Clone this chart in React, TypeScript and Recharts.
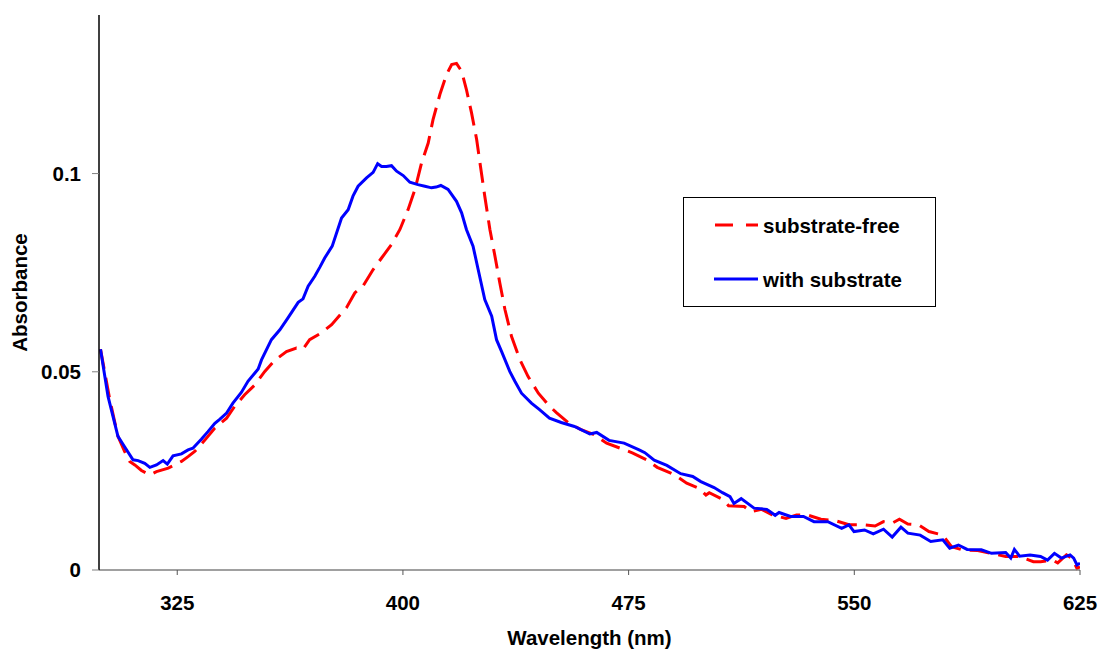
import React from "react";
import { LineChart, Line, XAxis, YAxis, Legend } from "recharts";

// [wavelength nm, absorbance]
const substrateFree: [number, number][] = [
  [299.5, 0.0557], [302.6, 0.0429], [305.3, 0.0337], [307.5, 0.0299], [309.2, 0.0274],
  [310.9, 0.0265], [313.1, 0.0251], [315.9, 0.024], [318.1, 0.0248], [322, 0.0257],
  [326.4, 0.0274], [328.6, 0.0286], [330.8, 0.0299], [334.1, 0.0327], [337.5, 0.0358],
  [341.4, 0.0383], [344.1, 0.0413], [347.4, 0.0442], [350.8, 0.0467], [354.1, 0.0501],
  [357.4, 0.0529], [361.3, 0.0551], [364.6, 0.056], [366.8, 0.0557], [369, 0.0581],
  [372.9, 0.0598], [376.3, 0.0619], [379.6, 0.0648], [381.2, 0.0661], [384, 0.0699],
  [386.8, 0.0717], [390.1, 0.0758], [392.9, 0.0787], [396.2, 0.0821], [399, 0.0859],
  [401.7, 0.0909], [404, 0.096], [406.2, 0.1027], [408.4, 0.1077], [410, 0.1136],
  [412.3, 0.12], [414.5, 0.125], [416.2, 0.1275], [417.8, 0.1278], [419.5, 0.1258],
  [421.1, 0.1212], [422.8, 0.1153], [424.5, 0.1086], [425.6, 0.1027], [427.2, 0.0943],
  [428.9, 0.0859], [430.6, 0.0791], [432.2, 0.0724], [433.9, 0.0657], [436.1, 0.0589],
  [438.9, 0.053], [441.6, 0.0488], [445, 0.0446], [448.5, 0.0415], [451, 0.0397],
  [454.9, 0.0372], [459, 0.0355], [463.6, 0.0341], [467.7, 0.032], [472.3, 0.0307],
  [476.4, 0.0295], [481, 0.0278], [484.5, 0.0259], [490.3, 0.024], [494.3, 0.0219],
  [498.4, 0.0206], [500.7, 0.0189], [501.8, 0.0195], [506.5, 0.0177], [508.2, 0.0162],
  [513.4, 0.016], [515.7, 0.0147], [519.2, 0.0153], [522.7, 0.0139], [527.3, 0.013],
  [530.8, 0.0139], [534.3, 0.0139], [538.9, 0.0128], [543.5, 0.0125], [548.2, 0.0114],
  [552.8, 0.0114], [556.9, 0.0111], [559.7, 0.0122], [562.5, 0.0118], [565, 0.0128],
  [567.8, 0.0116], [571.3, 0.0114], [574.8, 0.0097], [579.4, 0.0088], [582.3, 0.0059],
  [585.8, 0.0051], [591, 0.0049], [595.6, 0.0042], [600.3, 0.0034], [604.9, 0.0034],
  [609.5, 0.0021], [611.9, 0.0021], [615.9, 0.0025], [617.6, 0.0018], [620.5, 0.0038],
  [622.3, 0.003], [624, 0.0004], [625, 0.0008],
];

const withSubstrate: [number, number][] = [
  [299.5, 0.0557], [302, 0.0438], [305.3, 0.0337], [307.5, 0.0311], [310.3, 0.0278],
  [312, 0.0276], [314.2, 0.0269], [315.9, 0.0259], [318.1, 0.0265], [320.3, 0.0276],
  [321.7, 0.0267], [323.6, 0.0288], [326.4, 0.0293], [328.6, 0.0303], [330.2, 0.0307],
  [333, 0.033], [335.2, 0.0349], [337.5, 0.037], [339.1, 0.038], [341.4, 0.0396],
  [343.5, 0.0421], [346.3, 0.0448], [348.5, 0.0476], [351.9, 0.0507], [353, 0.053],
  [356.3, 0.0581], [359.1, 0.0606], [361.8, 0.0636], [365.2, 0.0675], [366.8, 0.0684],
  [368.5, 0.0716], [370.7, 0.0741], [372.4, 0.0764], [374, 0.0787], [376.5, 0.0817],
  [379.6, 0.0888], [381.8, 0.0909], [383.4, 0.0943], [385.1, 0.0968], [387.9, 0.0989],
  [390.1, 0.1003], [391.6, 0.1025], [392.9, 0.1018], [394.5, 0.1018], [396.2, 0.102],
  [397.9, 0.1006], [400.1, 0.0995], [402.3, 0.0978], [405, 0.0972], [407.3, 0.0968],
  [409.5, 0.0964], [411, 0.0966], [412.6, 0.097], [415, 0.096], [417.8, 0.093],
  [419.5, 0.0901], [421.1, 0.0859], [423.3, 0.0817], [425, 0.0758], [427.2, 0.0682],
  [429.5, 0.064], [431.1, 0.0581], [432.8, 0.0551], [435.5, 0.0501], [437.2, 0.0476],
  [439.4, 0.0446], [442.7, 0.0421], [445.3, 0.0405], [448.7, 0.0383], [452.6, 0.0372],
  [457, 0.0362], [462.1, 0.0343], [464.4, 0.0347], [468.5, 0.0327], [473.5, 0.032],
  [478.5, 0.0303], [480.4, 0.0296], [483.5, 0.0277], [487.7, 0.0264], [492.3, 0.0243],
  [496.3, 0.0236], [499, 0.0223], [503.4, 0.0208], [506.2, 0.0195], [508.7, 0.0185],
  [510, 0.0168], [512.4, 0.018], [516.7, 0.0156], [520.9, 0.0153], [523.7, 0.0138],
  [525, 0.0145], [528.8, 0.0135], [533.1, 0.0135], [536.6, 0.0122], [541.2, 0.0122],
  [545.8, 0.0105], [548.2, 0.0114], [549.9, 0.0097], [553.4, 0.0101], [556.3, 0.0091],
  [559.7, 0.0103], [562.6, 0.0083], [565.5, 0.0108], [567.8, 0.0093], [571.9, 0.0088],
  [575.4, 0.0072], [579.4, 0.0076], [581.7, 0.0055], [584.6, 0.0063], [587.5, 0.0052],
  [592.2, 0.0051], [595.6, 0.0042], [600.3, 0.0044], [602, 0.003], [603.2, 0.0052],
  [604.9, 0.0035], [608.4, 0.0038], [611.9, 0.0034], [614.2, 0.0025], [616.5, 0.0042],
  [618.8, 0.003], [621.7, 0.0038], [622.9, 0.003], [624, 0.0013], [625, 0.0017],
];

const xTicks = [325, 400, 475, 550, 625];
const yTicks = [0, 0.05, 0.1];

const FONT = "'Liberation Sans', Arial, sans-serif";
const tickStyle = { fill: "#000", fontSize: 20.5, fontWeight: 700, fontFamily: FONT };

const toRows = (pts: [number, number][]) => pts.map(([nm, abs]) => ({ nm, abs }));

function LegendBox() {
  return (
    <svg width={254} height={111} style={{ display: "block" }}>
      <rect x={0.5} y={0.5} width={252} height={109} fill="#fff" stroke="#000" strokeWidth={1} />
      <line x1={32} x2={75} y1={28} y2={28} stroke="#FF0000" strokeWidth={3} strokeDasharray="18 13" />
      <text x={80} y={36} fontSize={20.5} fontWeight={700} fontFamily={FONT} fill="#000">
        substrate-free
      </text>
      <line x1={31} x2={75} y1={82} y2={82} stroke="#0000FF" strokeWidth={3} />
      <text x={80} y={90} fontSize={20.5} fontWeight={700} fontFamily={FONT} fill="#000">
        with substrate
      </text>
    </svg>
  );
}

export default function App() {
  return (
    <div style={{ position: "absolute", left: 0, top: 0, background: "#fff" }}>
      <LineChart width={1101} height={651} margin={{ top: 15, right: 21, bottom: 0, left: 0 }}>
        <XAxis
          type="number"
          dataKey="nm"
          domain={[299, 625]}
          ticks={xTicks}
          allowDataOverflow
          height={81}
          tickSize={5}
          tickMargin={20}
          axisLine={{ stroke: "#808080", strokeWidth: 1.5 }}
          tickLine={{ stroke: "#555" }}
          tick={tickStyle}
          label={{
            value: "Wavelength (nm)",
            position: "insideBottom",
            offset: 6,
            style: { fill: "#000", fontSize: 20.5, fontWeight: 700, fontFamily: FONT },
          }}
        />
        <YAxis
          type="number"
          domain={[0, 0.14]}
          ticks={yTicks}
          width={99}
          tickSize={7}
          tickMargin={11}
          axisLine={{ stroke: "#000", strokeWidth: 1.5 }}
          tickLine={{ stroke: "#808080" }}
          tick={tickStyle}
          label={{
            value: "Absorbance",
            angle: -90,
            position: "insideLeft",
            offset: 20,
            style: { fill: "#000", fontSize: 20.5, fontWeight: 700, fontFamily: FONT, textAnchor: "middle" },
          }}
        />
        <Legend
          layout="vertical"
          align="center"
          verticalAlign="middle"
          wrapperStyle={{ left: 683, top: 197, width: 254, height: 111 }}
          content={() => <LegendBox />}
        />
        <Line
          data={toRows(substrateFree)}
          dataKey="abs"
          name="substrate-free"
          type="linear"
          stroke="#FF0000"
          strokeWidth={3}
          strokeDasharray="20 9"
          dot={false}
          activeDot={false}
          isAnimationActive={false}
        />
        <Line
          data={toRows(withSubstrate)}
          dataKey="abs"
          name="with substrate"
          type="linear"
          stroke="#0000FF"
          strokeWidth={3}
          dot={false}
          activeDot={false}
          isAnimationActive={false}
        />
      </LineChart>
    </div>
  );
}
